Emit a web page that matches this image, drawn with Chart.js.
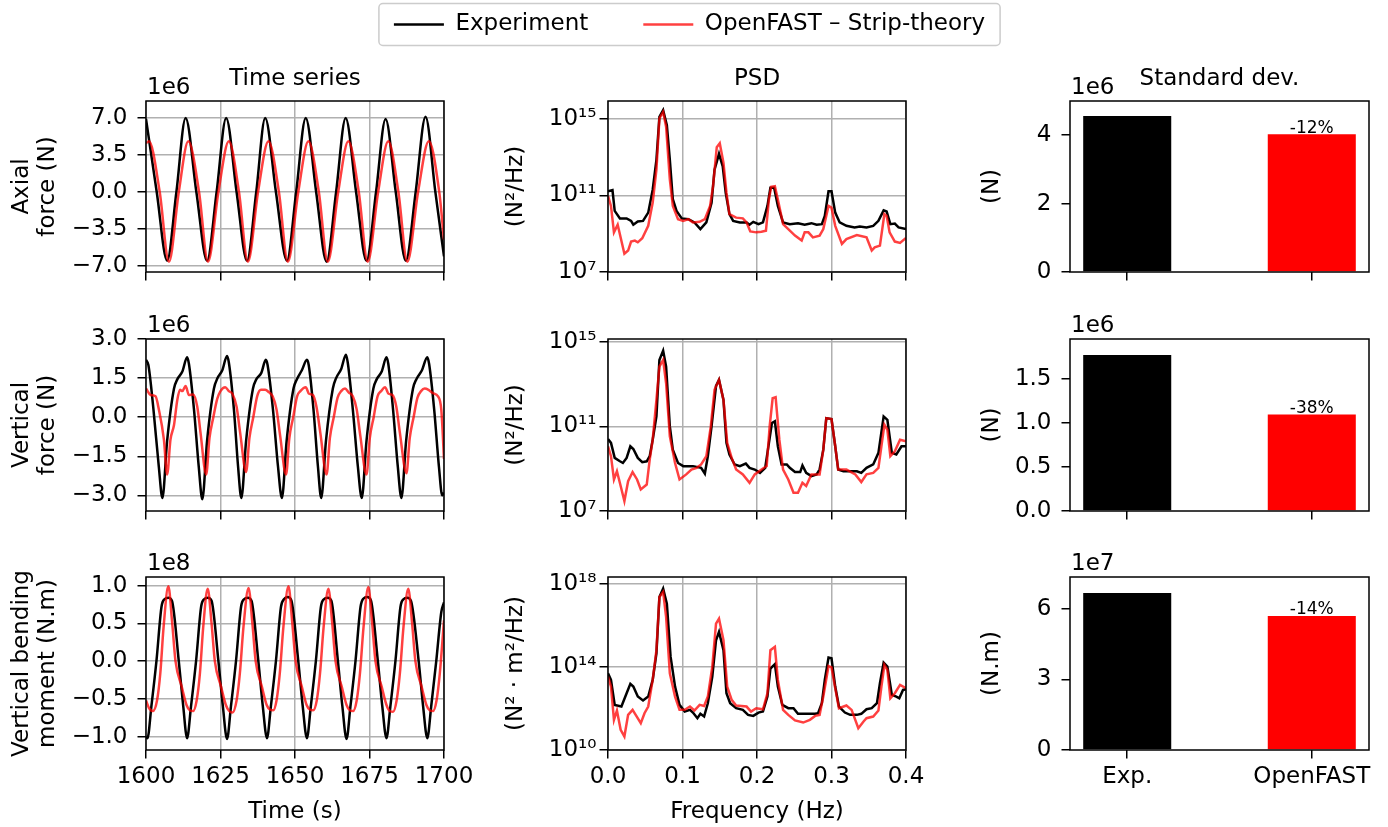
<!DOCTYPE html>
<html>
<head>
<meta charset="utf-8">
<script src="https://cdn.jsdelivr.net/npm/chart.js@4.4.1/dist/chart.umd.min.js"></script>
<style>
  html, body { margin: 0; padding: 0; background: #fff; }
  #page { position: relative; width: 1388px; height: 827px; overflow: hidden; background: #fff; }
  #page canvas { position: absolute; left: 0; }
</style>
</head>
<body>
<div id="page"></div>
<script>
// ---- data ----
const seriesNames = ['Experiment', 'OpenFAST \u2013 Strip-theory'];

// time series, [time (s), value in units of the axis offset]
const axialExp = [[1600,6.9],[1603.6,0],[1607.1,-6.5],[1610.2,0],[1613.3,7.0],[1616.9,0],[1620.5,-6.5],[1623.7,0],[1626.9,7.0],[1630.4,0],[1633.9,-6.5],[1637.0,0],[1640.0,7.0],[1643.6,0],[1647.3,-6.5],[1650.4,0],[1653.6,7.0],[1657.1,0],[1660.6,-6.6],[1663.8,0],[1667.0,7.0],[1670.5,0],[1674.0,-6.5],[1677.2,0],[1680.4,6.9],[1683.8,0],[1687.2,-6.5],[1690.5,0],[1693.8,7.1],[1697.1,0],[1700,-6.1]];
const axialOF = [[1600,4.6],[1601,4.8],[1604.6,0],[1607.7,-6.6],[1611.0,0],[1614.2,4.8],[1617.8,0],[1620.8,-6.6],[1624.3,0],[1627.8,4.8],[1631.2,0],[1634.2,-6.6],[1637.6,0],[1641.1,4.8],[1644.6,0],[1647.6,-6.6],[1651.1,0],[1654.5,4.8],[1658.0,0],[1661.0,-6.6],[1664.5,0],[1667.9,4.8],[1671.4,0],[1674.4,-6.6],[1677.9,0],[1681.3,4.8],[1684.7,0],[1687.7,-6.6],[1691.3,0],[1694.9,4.8],[1698.4,0],[1700,-4.5]];

const vertExp = [[1600,2.2],[1600.8,2.0],[1602.5,0.3],[1604.3,-1.9],[1605.5,-3.1],
  [1607.1,-0.9],[1609.4,1.1],[1610.5,1.45],[1612.2,1.75],[1613.8,2.3],[1614.4,2.05],[1616.1,0.3],[1617.7,-1.9],[1618.9,-3.15],
  [1620.5,-0.9],[1622.8,1.1],[1624.0,1.5],[1625.6,1.8],[1627.2,2.35],[1627.8,2.1],[1629.5,0.3],[1630.9,-1.9],[1632.0,-3.1],
  [1633.6,-0.9],[1635.9,1.1],[1637.0,1.45],[1638.7,1.7],[1640.2,2.2],[1640.8,2.0],[1642.6,0.3],[1644.3,-1.9],[1645.6,-3.1],
  [1647.2,-0.9],[1649.5,1.1],[1650.6,1.45],[1652.3,1.8],[1654.0,2.2],[1654.6,2.0],[1656.2,0.3],[1657.7,-1.9],[1658.8,-3.1],
  [1660.4,-0.9],[1662.7,1.1],[1663.8,1.5],[1665.5,1.85],[1667.1,2.4],[1667.7,2.1],[1669.4,0.3],[1671.1,-1.9],[1672.4,-3.1],
  [1674.0,-0.9],[1676.3,1.1],[1677.4,1.45],[1679.1,1.75],[1680.7,2.3],[1681.3,2.05],[1682.9,0.3],[1684.5,-1.9],[1685.7,-3.1],
  [1687.3,-0.9],[1689.6,1.1],[1690.7,1.45],[1692.6,1.8],[1694.4,2.3],[1695.0,2.05],[1696.7,0.3],[1698.3,-1.9],[1699.4,-3.0],[1700,-2.9]];
const vertOF = [[1600,1.1],[1601.6,0.85],[1603.2,0.8],[1604.3,0.3],[1606.0,-0.85],[1607.1,-2.2],
  [1608.2,-0.87],[1609.4,-0.3],[1610.5,0.66],[1611.4,1.05],[1612.2,1.0],[1613.3,1.2],[1614.4,0.85],[1615.8,0.87],[1617.2,0.4],[1618.3,-0.6],[1620.2,-2.2],
  [1621.3,-0.8],[1622.6,0.0],[1623.9,0.7],[1625.0,1.0],[1626.6,1.15],[1627.8,1.0],[1629.0,0.9],[1630.4,0.4],[1631.6,-0.6],[1633.6,-2.1],
  [1634.7,-0.8],[1636.0,0.0],[1637.3,0.8],[1638.6,1.05],[1640.0,1.05],[1641.3,0.95],[1642.5,0.8],[1643.8,0.3],[1645.0,-0.7],[1647.0,-2.2],
  [1648.1,-0.8],[1649.4,0.0],[1650.7,0.8],[1651.8,1.0],[1653.6,1.15],[1654.7,0.9],[1656.0,0.85],[1657.2,0.4],[1658.5,-0.6],[1660.6,-2.2],
  [1661.7,-0.8],[1663.0,0.0],[1664.3,0.75],[1665.5,1.0],[1666.8,1.1],[1668.0,0.95],[1669.4,0.8],[1670.7,0.3],[1671.9,-0.7],[1674.0,-2.2],
  [1675.1,-0.8],[1676.4,0.0],[1677.7,0.8],[1678.9,1.0],[1680.2,1.15],[1681.4,0.9],[1682.7,0.85],[1684.0,0.4],[1685.2,-0.6],[1687.4,-2.15],
  [1688.5,-0.8],[1689.8,0.0],[1691.1,0.75],[1692.3,1.0],[1693.5,1.1],[1694.8,1.05],[1696.3,0.92],[1698.0,0.8],[1699.1,0.28],[1700,-1.6]];

const momExp = [[1600,-1.0],[1600.5,-1.02],
  [1601.8,-0.6],[1603.5,0],[1605.2,0.72],[1606.2,0.82],[1607.5,0.84],[1608.7,0.8],[1611.0,0],[1612.5,-0.6],[1613.8,-1.02],
  [1615.1,-0.6],[1616.8,0],[1618.5,0.72],[1619.5,0.82],[1620.8,0.84],[1622.0,0.8],[1624.3,0],[1625.8,-0.6],[1627.2,-1.03],
  [1628.5,-0.6],[1630.2,0],[1631.9,0.72],[1632.9,0.82],[1634.2,0.84],[1635.4,0.8],[1637.7,0],[1639.2,-0.6],[1640.6,-1.02],
  [1641.9,-0.6],[1643.6,0],[1645.3,0.72],[1646.3,0.82],[1647.6,0.85],[1648.8,0.8],[1651.1,0],[1652.6,-0.6],[1654.0,-1.02],
  [1655.3,-0.6],[1657.0,0],[1658.7,0.72],[1659.7,0.82],[1661.0,0.84],[1662.2,0.8],[1664.4,0],[1665.9,-0.6],[1667.3,-1.03],
  [1668.6,-0.6],[1670.3,0],[1672.0,0.72],[1673.0,0.83],[1674.3,0.85],[1675.5,0.8],[1677.8,0],[1679.3,-0.6],[1680.7,-1.02],
  [1682.0,-0.6],[1683.7,0],[1685.4,0.72],[1686.4,0.82],[1687.7,0.84],[1688.9,0.8],[1691.5,0],[1693.0,-0.6],[1694.4,-1.02],
  [1695.7,-0.6],[1697.4,0],[1699.1,0.65],[1700,0.78]];
const momOF = [[1600,-0.52],[1601,-0.62],[1602.3,-0.66],[1603.7,-0.52],[1604.8,-0.16],[1605.9,0.45],[1607.5,0.99],
  [1608.8,0.5],[1609.9,0],[1612.0,-0.34],[1613.6,-0.58],[1614.7,-0.65],[1615.8,-0.66],[1617.0,-0.52],[1618.1,-0.16],[1619.2,0.45],[1620.7,0.96],
  [1622.0,0.5],[1623.1,0],[1625.2,-0.34],[1626.8,-0.58],[1627.9,-0.66],[1629.0,-0.68],[1630.4,-0.52],[1631.5,-0.16],[1632.7,0.45],[1634.4,0.97],
  [1635.7,0.5],[1636.8,0],[1638.9,-0.34],[1640.5,-0.58],[1641.6,-0.64],[1642.7,-0.65],[1643.8,-0.52],[1644.9,-0.16],[1646.1,0.45],[1647.8,0.99],
  [1649.1,0.5],[1650.2,0],[1652.3,-0.34],[1653.9,-0.58],[1655.0,-0.64],[1656.1,-0.65],[1657.3,-0.52],[1658.4,-0.16],[1659.6,0.45],[1661.2,0.96],
  [1662.5,0.5],[1663.6,0],[1665.7,-0.34],[1667.3,-0.58],[1668.4,-0.65],[1669.5,-0.66],[1670.7,-0.52],[1671.8,-0.16],[1673.0,0.45],[1674.6,0.98],
  [1675.9,0.5],[1677.0,0],[1679.1,-0.34],[1680.7,-0.58],[1681.8,-0.66],[1682.9,-0.67],[1684.1,-0.52],[1685.2,-0.16],[1686.4,0.45],[1688.0,0.96],
  [1689.3,0.5],[1690.4,0],[1692.5,-0.34],[1694.1,-0.58],[1695.2,-0.65],[1696.3,-0.66],[1697.5,-0.52],[1698.6,-0.16],[1700,0.54]];

// PSD, [frequency (Hz), log10 of PSD]
const psdAxialExp = [[0,11.22],[0.006,11.28],[0.009,10.19],[0.016,9.8],[0.025,9.8],[0.031,9.67],[0.034,9.47],[0.04,9.64],[0.047,9.67],[0.054,10.1],[0.06,11.3],[0.065,12.86],[0.069,15.1],[0.074,15.45],[0.079,14.67],[0.083,12.86],[0.087,10.8],[0.092,10.19],[0.099,9.8],[0.108,9.76],[0.116,9.59],[0.124,9.24],[0.132,9.59],[0.139,10.62],[0.143,12.34],[0.149,13.17],[0.154,12.52],[0.158,11.14],[0.163,10.02],[0.168,9.67],[0.177,9.59],[0.186,9.59],[0.19,9.47],[0.195,9.62],[0.202,9.5],[0.208,9.59],[0.214,10.45],[0.218,11.4],[0.223,11.4],[0.228,10.45],[0.235,9.59],[0.244,9.5],[0.255,9.55],[0.264,9.47],[0.273,9.55],[0.28,9.47],[0.287,9.5],[0.291,9.93],[0.296,11.22],[0.3,11.22],[0.305,10.1],[0.311,9.59],[0.32,9.41],[0.331,9.33],[0.338,9.38],[0.347,9.33],[0.356,9.41],[0.363,9.67],[0.37,10.22],[0.374,10.16],[0.379,9.5],[0.385,9.53],[0.39,9.33],[0.4,9.24]];
const psdAxialOF = [[0,10.97],[0.004,10.45],[0.008,9.07],[0.013,9.47],[0.022,7.95],[0.027,8.12],[0.031,8.59],[0.036,8.64],[0.04,8.55],[0.046,8.76],[0.054,9.41],[0.06,10.62],[0.065,12.34],[0.069,15.02],[0.074,15.36],[0.078,14.59],[0.083,11.83],[0.087,10.45],[0.094,9.76],[0.101,9.67],[0.108,9.76],[0.114,9.59],[0.123,9.62],[0.13,9.76],[0.137,10.45],[0.141,11.48],[0.146,13.52],[0.15,13.72],[0.155,12.69],[0.159,11.14],[0.163,10.02],[0.172,9.84],[0.181,9.8],[0.186,9.59],[0.191,9.12],[0.199,9.07],[0.206,9.1],[0.212,9.16],[0.216,10.79],[0.219,11.45],[0.224,11.48],[0.228,10.79],[0.235,9.5],[0.242,9.24],[0.251,8.9],[0.26,8.64],[0.264,9.07],[0.269,9.07],[0.275,8.81],[0.284,8.9],[0.289,9.24],[0.296,10.45],[0.3,10.36],[0.305,9.41],[0.314,8.47],[0.32,8.72],[0.334,8.93],[0.347,8.81],[0.354,8.12],[0.358,8.29],[0.365,8.38],[0.371,10.02],[0.374,9.93],[0.378,9.07],[0.385,8.59],[0.392,8.52],[0.4,8.78]];
const psdVertExp = [[0,10.4],[0.004,10.22],[0.009,9.51],[0.016,9.35],[0.02,9.27],[0.025,9.51],[0.03,10.06],[0.034,9.93],[0.04,9.51],[0.046,9.31],[0.052,9.35],[0.056,9.59],[0.06,10.37],[0.065,11.47],[0.069,14.14],[0.074,14.58],[0.078,13.82],[0.083,11.0],[0.087,9.9],[0.094,9.27],[0.101,9.12],[0.114,9.12],[0.125,9.04],[0.13,8.77],[0.134,9.59],[0.139,11.0],[0.145,12.91],[0.149,13.2],[0.155,12.25],[0.159,10.22],[0.163,9.67],[0.17,9.2],[0.177,9.12],[0.185,9.24],[0.19,9.04],[0.197,8.96],[0.204,8.8],[0.211,9.04],[0.215,9.98],[0.22,11.16],[0.224,11.24],[0.228,10.06],[0.233,9.2],[0.24,9.2],[0.244,9.04],[0.251,8.84],[0.258,8.84],[0.261,9.15],[0.266,8.8],[0.273,8.65],[0.28,8.73],[0.284,8.96],[0.289,9.9],[0.293,11.39],[0.3,11.35],[0.305,10.06],[0.309,8.96],[0.316,8.88],[0.325,8.88],[0.334,8.88],[0.34,8.8],[0.347,9.04],[0.356,9.2],[0.363,9.75],[0.37,11.47],[0.375,11.31],[0.381,9.75],[0.387,9.67],[0.394,10.06],[0.4,10.06]];
const psdVertOF = [[0,10.06],[0.004,9.59],[0.008,8.49],[0.012,8.88],[0.017,8.18],[0.022,7.47],[0.027,8.41],[0.033,8.84],[0.039,8.49],[0.044,8.02],[0.052,8.25],[0.056,9.43],[0.06,10.37],[0.065,12.25],[0.069,13.82],[0.074,14.14],[0.078,13.04],[0.083,10.53],[0.09,9.27],[0.096,8.49],[0.105,8.73],[0.112,8.96],[0.119,9.04],[0.125,9.2],[0.132,9.59],[0.138,11.0],[0.143,12.73],[0.149,13.2],[0.155,12.25],[0.16,10.22],[0.166,9.51],[0.172,8.96],[0.181,8.73],[0.19,8.33],[0.197,8.73],[0.206,8.96],[0.213,9.12],[0.217,11.0],[0.221,12.33],[0.225,12.38],[0.23,10.37],[0.235,8.96],[0.242,8.49],[0.249,7.86],[0.255,7.86],[0.261,8.33],[0.266,8.18],[0.273,8.73],[0.284,8.73],[0.289,9.9],[0.293,11.39],[0.3,11.35],[0.305,10.06],[0.309,8.96],[0.32,8.96],[0.332,8.73],[0.34,8.37],[0.347,8.73],[0.356,8.8],[0.363,9.04],[0.371,11.08],[0.375,10.84],[0.379,9.59],[0.385,9.82],[0.392,10.37],[0.4,10.3]];
const psdMomExp = [[0,13.69],[0.004,13.37],[0.009,12.17],[0.018,12.09],[0.025,12.73],[0.03,13.18],[0.034,13.05],[0.04,12.57],[0.047,12.38],[0.054,12.57],[0.06,13.37],[0.065,14.65],[0.069,17.36],[0.074,17.76],[0.079,17.04],[0.084,14.49],[0.09,13.05],[0.096,12.17],[0.103,11.85],[0.11,11.93],[0.114,11.8],[0.12,11.53],[0.124,11.74],[0.129,11.61],[0.134,12.25],[0.14,13.53],[0.145,15.28],[0.149,15.68],[0.155,14.8],[0.159,12.73],[0.164,12.25],[0.172,12.01],[0.181,11.93],[0.188,11.69],[0.195,11.64],[0.202,11.8],[0.208,11.85],[0.214,12.57],[0.218,13.92],[0.224,14.13],[0.228,13.05],[0.234,12.17],[0.242,12.01],[0.249,12.01],[0.255,11.74],[0.267,11.74],[0.278,11.74],[0.282,11.77],[0.287,12.25],[0.291,13.37],[0.296,14.45],[0.3,14.41],[0.305,13.05],[0.31,12.09],[0.318,11.8],[0.325,11.69],[0.334,11.69],[0.34,11.74],[0.347,11.96],[0.354,12.01],[0.361,12.25],[0.365,13.21],[0.37,14.2],[0.375,14.01],[0.381,12.65],[0.387,12.57],[0.391,12.49],[0.396,12.89],[0.4,12.92]];
const psdMomOF = [[0,13.53],[0.004,13.05],[0.008,11.45],[0.012,11.9],[0.017,10.97],[0.022,10.65],[0.027,11.69],[0.033,11.93],[0.038,11.64],[0.044,11.29],[0.049,11.77],[0.054,12.09],[0.06,13.37],[0.065,14.8],[0.069,17.36],[0.074,17.6],[0.078,16.4],[0.083,13.69],[0.09,12.57],[0.096,11.93],[0.103,11.93],[0.11,12.09],[0.116,11.9],[0.123,12.17],[0.129,12.12],[0.134,12.57],[0.14,14.01],[0.145,16.08],[0.149,16.32],[0.155,15.28],[0.16,13.05],[0.166,12.41],[0.172,12.14],[0.186,12.09],[0.192,11.85],[0.199,12.01],[0.208,11.96],[0.214,12.73],[0.218,14.8],[0.224,14.96],[0.228,13.37],[0.235,11.93],[0.242,11.69],[0.251,11.42],[0.262,11.32],[0.271,11.45],[0.278,11.64],[0.284,11.69],[0.289,12.57],[0.296,14.04],[0.3,13.97],[0.305,12.97],[0.31,12.01],[0.32,12.14],[0.327,11.93],[0.336,11.05],[0.343,11.37],[0.347,11.53],[0.356,11.61],[0.363,11.9],[0.367,13.05],[0.371,14.09],[0.375,13.85],[0.379,12.49],[0.385,12.73],[0.392,13.13],[0.4,12.97]];

// standard deviations (axial, vertical, moment) in units of the axis offset
const barLabels = ['Exp.', 'OpenFAST'];
const stdExp = [4.56, 1.77, 6.66];
const stdOF = [4.03, 1.094, 5.69];
const pctLabels = ['-12%', '-38%', '-14%'];

// axis ticks
const tsTimeTicks = [1600, 1625, 1650, 1675, 1700];
const freqTicks = [0, 0.1, 0.2, 0.3, 0.4];
const tsTicks = [[-7, -3.5, 0, 3.5, 7], [-3, -1.5, 0, 1.5, 3], [-1, -0.5, 0, 0.5, 1]];
const psdTicks = [[1e7, 1e11, 1e15], [1e7, 1e11, 1e15], [1e10, 1e14, 1e18]];
const stdTicks = [[0, 2, 4], [0, 0.5, 1, 1.5], [0, 3, 6]];
const stdDecimals = [0, 1, 0];

const tsTitles = [['Axial', 'force (N)'], ['Vertical', 'force (N)'], ['Vertical bending', 'moment (N.m)']];
const psdTitles = ['(N\u00b2/Hz)', '(N\u00b2/Hz)', '(N\u00b2 \u00b7 m\u00b2/Hz)'];
const stdTitles = ['(N)', '(N)', '(N.m)'];
const tsOffsets = ['1e6', '1e6', '1e8'];
const stdOffsets = ['1e6', '1e6', '1e7'];
const colTitles = ['Time series', 'PSD', 'Standard dev.'];

// ---- styling / layout ----
const FONT = 'DejaVu Sans';
const EXP_COLOR = '#000000';
const OF_COLOR = 'rgba(255, 0, 0, 0.75)';
const GRID = '#b0b0b0';

const COLS = [
  { l: 146, r: 444, padL: 8.5, tickPad: 10 },
  { l: 608, r: 906, padL: 502.6, tickPad: 3 },
  { l: 1070, r: 1369, padL: 979, tickPad: 10 }
];
const ROWS = [{ t: 101, b: 272 }, { t: 339, b: 511 }, { t: 577, b: 750 }];
const TS_RANGE = [[-7.57, 8.6], [-3.6, 3.0], [-1.176, 1.114]];
const PSD_RANGE = [[1e7, Math.pow(10, 15.93)], [1e7, Math.pow(10, 15.13)], [1e10, Math.pow(10, 18.32)]];
const STD_MAX = [5.0, 1.95, 7.34];

Chart.defaults.font.family = FONT;
Chart.defaults.color = '#000';

const SUP = { '0': '\u2070', '1': '\u00b9', '2': '\u00b2', '3': '\u00b3', '4': '\u2074', '5': '\u2075', '6': '\u2076', '7': '\u2077', '8': '\u2078', '9': '\u2079' };
const pow10Label = v => '10' + String(Math.round(Math.log10(v))).split('').map(c => SUP[c]).join('');
const minus = s => s.replace('-', '\u2212');

// spines, column titles, offset text and percentage labels
const deco = {
  id: 'deco',
  afterDraw(chart, args, o) {
    const { ctx, chartArea: a } = chart;
    ctx.save();
    ctx.strokeStyle = '#000';
    ctx.lineWidth = 1.5;
    ctx.strokeRect(a.left, a.top, a.right - a.left, a.bottom - a.top);
    ctx.fillStyle = '#000';
    ctx.textBaseline = 'alphabetic';
    ctx.font = `23px "${FONT}"`;
    if (o.title) {
      ctx.textAlign = 'center';
      ctx.fillText(o.title, (a.left + a.right) / 2, a.top - 16);
    }
    if (o.offset) {
      ctx.textAlign = 'left';
      ctx.fillText(o.offset, a.left + 1, a.top - 7.5);
    }
    if (o.pct) {
      const bar = chart.getDatasetMeta(0).data[1];
      ctx.font = `17px "${FONT}"`;
      ctx.textAlign = 'center';
      ctx.fillText(o.pct, bar.x, bar.y - 1.5);
    }
    ctx.restore();
  }
};
Chart.register(deco);

function addCanvas(w, h, top) {
  const c = document.createElement('canvas');
  c.width = w;
  c.height = h;
  c.style.top = top + 'px';
  document.getElementById('page').appendChild(c);
  return c;
}

function panel(row, col, type, datasets, sx, sy, decoOpts) {
  const C = COLS[col], R = ROWS[row];
  const last = row === ROWS.length - 1;
  const hx = last ? 76 : 9;
  const font = { family: FONT, size: 23 };
  const grid = on => ({
    color: on ? GRID : 'rgba(0,0,0,0)', drawOnChartArea: on, offset: false,
    lineWidth: 1.5, tickColor: '#000', tickWidth: 1.5, tickLength: 8.5
  });
  const x = {
    type: sx.type, min: sx.min, max: sx.max, bounds: 'data', offset: false,
    grid: grid(sx.grid),
    border: { display: false },
    ticks: { font, color: '#000', padding: 5, maxRotation: 0, autoSkip: false,
      callback: (v, i) => last ? sx.label(v, i) : '' },
    title: { display: last && !!sx.title, text: sx.title || '', font, color: '#000', padding: 0 },
    afterBuildTicks: s => { s.ticks = sx.ticks.map(v => ({ value: v })); },
    afterFit: s => { s.height = hx; s.paddingLeft = 0; s.paddingRight = 0; }
  };
  const y = {
    type: sy.type, min: sy.min, max: sy.max, bounds: 'data',
    grid: grid(sy.grid),
    border: { display: false },
    ticks: { font, color: '#000', padding: C.tickPad, autoSkip: false, callback: (v, i) => sy.label(v, i) },
    title: { display: true, text: sy.title, font: { family: FONT, size: 23, lineHeight: 1.16 }, color: '#000', padding: 0 },
    afterBuildTicks: s => { s.ticks = sy.ticks.map(v => ({ value: v })); },
    afterFit: s => { s.width = C.l - C.padL; s.paddingTop = 0; s.paddingBottom = 0; s.paddingLeft = 0; s.paddingRight = 0; }
  };
  return new Chart(addCanvas(1388, 827, 0), {
    type,
    data: { datasets },
    options: {
      responsive: false, animation: false, events: [],
      layout: { padding: { left: C.padL, top: R.t, right: 1388 - C.r, bottom: 827 - R.b - hx } },
      plugins: { legend: { display: false }, tooltip: { enabled: false }, deco: decoOpts },
      scales: { x, y }
    }
  });
}

function lineSets(exp, of, toY, smooth) {
  const mk = (pts, color, order) => ({
    data: pts.map(p => ({ x: p[0], y: toY(p[1]) })),
    borderColor: color, borderWidth: 2.5, pointRadius: 0, order,
    cubicInterpolationMode: smooth ? 'monotone' : 'default', tension: 0
  });
  return [mk(exp, EXP_COLOR, 1), mk(of, OF_COLOR, 0)];
}

const tsData = [[axialExp, axialOF], [vertExp, vertOF], [momExp, momOF]];
const psdData = [[psdAxialExp, psdAxialOF], [psdVertExp, psdVertOF], [psdMomExp, psdMomOF]];

for (let r = 0; r < 3; r++) {
  // time series
  panel(r, 0, 'line', lineSets(tsData[r][0], tsData[r][1], v => v, true),
    { type: 'linear', min: 1600, max: 1700, ticks: tsTimeTicks, grid: true, label: v => String(v), title: 'Time (s)' },
    { type: 'linear', min: TS_RANGE[r][0], max: TS_RANGE[r][1], ticks: tsTicks[r], grid: true,
      label: v => minus(v.toFixed(1)), title: tsTitles[r] },
    { title: r === 0 ? colTitles[0] : '', offset: tsOffsets[r] });

  // PSD
  panel(r, 1, 'line', lineSets(psdData[r][0], psdData[r][1], v => Math.pow(10, v), false),
    { type: 'linear', min: 0, max: 0.4, ticks: freqTicks, grid: true, label: v => v.toFixed(1), title: 'Frequency (Hz)' },
    { type: 'logarithmic', min: PSD_RANGE[r][0], max: PSD_RANGE[r][1], ticks: psdTicks[r], grid: true,
      label: v => pow10Label(v), title: psdTitles[r] },
    { title: r === 0 ? colTitles[1] : '' });

  // standard deviation bars
  panel(r, 2, 'bar', [{
      data: [{ x: 0, y: stdExp[r] }, { x: 1, y: stdOF[r] }],
      backgroundColor: ['#000000', '#ff0000'], borderWidth: 0,
      categoryPercentage: 1, barPercentage: 0.477
    }],
    { type: 'linear', min: -0.31, max: 1.31, ticks: [0, 1], grid: false, label: (v, i) => barLabels[i], title: '' },
    { type: 'linear', min: 0, max: STD_MAX[r], ticks: stdTicks[r], grid: false,
      label: v => v.toFixed(stdDecimals[r]), title: stdTitles[r] },
    { title: r === 0 ? colTitles[2] : '', offset: stdOffsets[r], pct: pctLabels[r] });
}

// shared legend at the top
const legendFrame = {
  id: 'legendFrame',
  afterDraw(chart) {
    const hb = chart.legend.legendHitBoxes;
    if (!hb || !hb.length) return;
    const first = hb[0], lastBox = hb[hb.length - 1];
    const cy = first.top + first.height / 2;
    const x0 = first.left - 15, x1 = lastBox.left + lastBox.width + 15;
    const ctx = chart.ctx;
    ctx.save();
    ctx.beginPath();
    ctx.roundRect(x0, cy - 21, x1 - x0, 42, 4);
    ctx.strokeStyle = '#cccccc';
    ctx.lineWidth = 1.5;
    ctx.stroke();
    ctx.restore();
  }
};

new Chart(addCanvas(1379, 360, -42), {
  type: 'line',
  data: {
    datasets: [
      { label: seriesNames[0], data: [], borderColor: EXP_COLOR, borderWidth: 2.5 },
      { label: seriesNames[1], data: [], borderColor: OF_COLOR, borderWidth: 2.5 }
    ]
  },
  options: {
    responsive: false, animation: false, events: [],
    scales: { x: { display: false }, y: { display: false } },
    plugins: {
      deco: false,
      tooltip: { enabled: false },
      legend: {
        display: true, position: 'top', align: 'center',
        labels: { usePointStyle: true, pointStyle: 'line', pointStyleWidth: 50,
          font: { family: FONT, size: 23 }, color: '#000', padding: 55 }
      }
    }
  },
  plugins: [legendFrame]
});
</script>
</body>
</html>
